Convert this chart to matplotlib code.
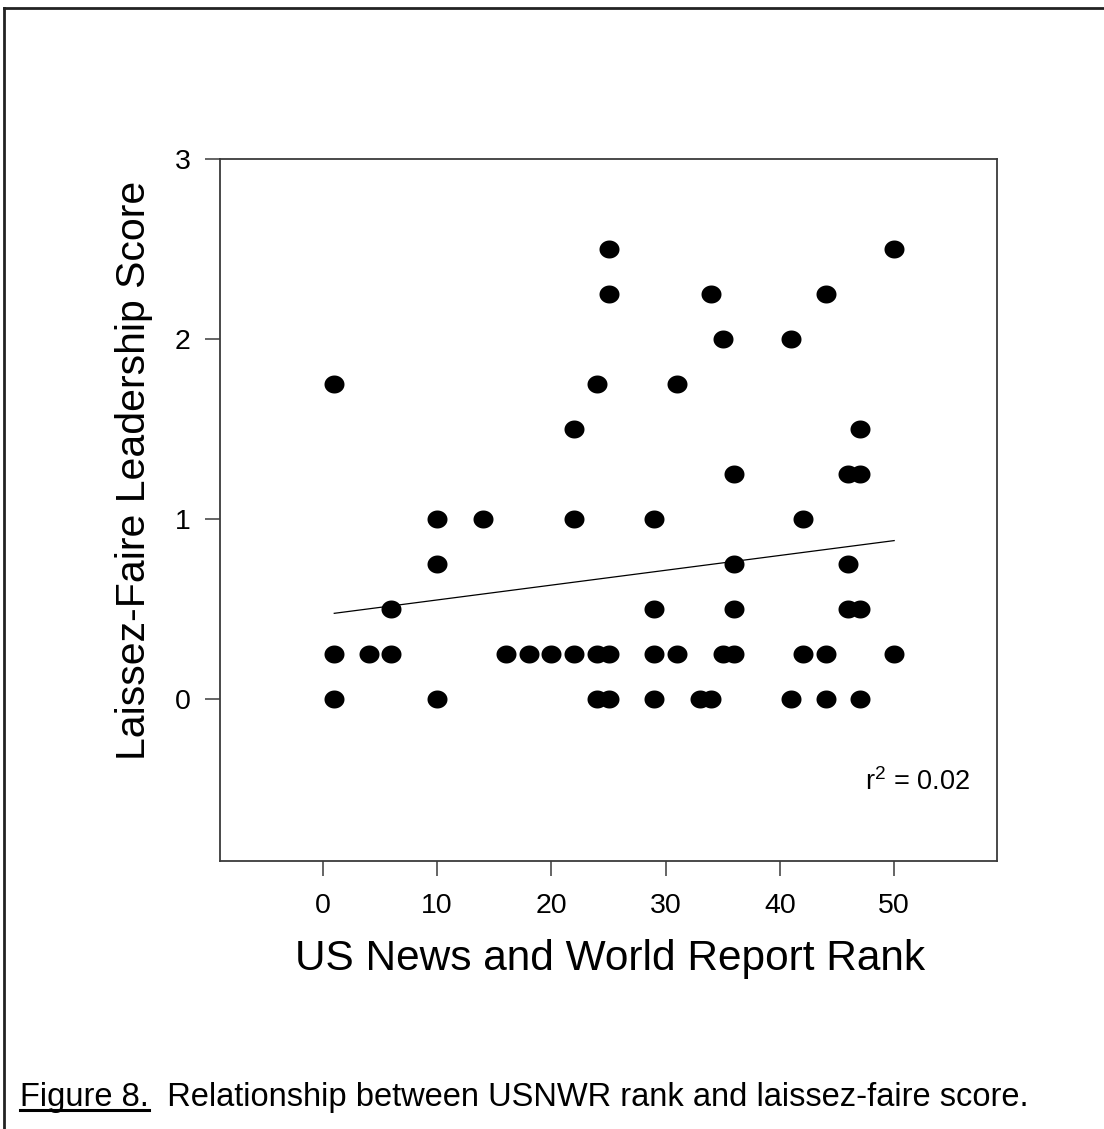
import matplotlib
matplotlib.use("Agg")
import matplotlib.pyplot as plt
import numpy as np
from matplotlib.path import Path
from matplotlib.lines import Line2D
from matplotlib.transforms import IdentityTransform

plt.rcParams['font.family'] = ['Liberation Sans', 'DejaVu Sans']
plt.rcParams['mathtext.fontset'] = 'custom'
plt.rcParams['mathtext.rm'] = 'Liberation Sans'
plt.rcParams['mathtext.it'] = 'Liberation Sans'

# USNWR rank vs. laissez-faire leadership score
rank = [1, 1, 1, 4, 6, 6, 10, 10, 10, 14, 16, 18, 20, 22, 22, 22,
        24, 24, 24, 25, 25, 25, 25, 29, 29, 29, 29, 31, 31, 33, 34, 34,
        35, 35, 36, 36, 36, 36, 41, 41, 42, 42, 44, 44, 44, 46, 46, 46,
        47, 47, 47, 47, 50, 50]
score = [1.75, 0.25, 0.0, 0.25, 0.5, 0.25, 1.0, 0.75, 0.0, 1.0, 0.25, 0.25, 0.25, 1.5, 1.0, 0.25,
         1.75, 0.25, 0.0, 2.5, 2.25, 0.25, 0.0, 1.0, 0.5, 0.25, 0.0, 1.75, 0.25, 0.0, 2.25, 0.0,
         2.0, 0.25, 1.25, 0.75, 0.5, 0.25, 2.0, 0.0, 1.0, 0.25, 2.25, 0.25, 0.0, 1.25, 0.75, 0.5,
         1.5, 1.25, 0.5, 0.0, 2.5, 0.25]

# least-squares line as reported with the plot
fit_x = [1, 50]
fit_y = [0.476, 0.88]
r_squared = 0.02

x_ticks = [0, 10, 20, 30, 40, 50]
y_ticks = [0, 1, 2, 3]

W, H = 1104, 1129
fig = plt.figure(figsize=(W / 100, H / 100), dpi=100)
fig.patch.set_facecolor('white')

ax = fig.add_axes([220 / W, 1 - 861 / H, (997 - 220) / W, (861 - 159) / H])

# slightly flattened dot marker
t = np.linspace(0, 2 * np.pi, 65)
dot = Path(np.column_stack([np.cos(t), 0.9 * np.sin(t)]), closed=True)

ax.plot(fit_x, fit_y, color='black', lw=0.9, zorder=2)
ax.plot(rank, score, linestyle='none', marker=dot, markersize=14.4,
        markerfacecolor='black', markeredgewidth=0, zorder=3)

ax.set_xlim(-9, 59)
ax.set_ylim(-0.9, 3)
ax.set_xticks(x_ticks)
ax.set_yticks(y_ticks)

spine_col = '#3a3a3a'
for s in ax.spines.values():
    s.set_color(spine_col)
    s.set_linewidth(1.3)
ax.tick_params(axis='both', direction='out', length=11, width=1.1,
               color=spine_col, labelsize=20.5, labelcolor='black')
ax.tick_params(axis='x', pad=12)
ax.tick_params(axis='y', pad=10)

ax.set_xlabel('US News and World Report Rank', fontsize=30.5, va='center')
ax.xaxis.set_label_coords(0.502, -0.14)
ax.set_ylabel('Laissez-Faire Leadership Score', fontsize=29.5, va='center')
ax.yaxis.set_label_coords(-0.111, 0.557)

ax.text(0.965, 0.113, r'$\mathregular{r^2}$ = ' + f'{r_squared:.2f}', transform=ax.transAxes,
        ha='right', va='center', fontsize=19.5)

# page frame
fig.add_artist(Line2D([4, W], [H - 8, H - 8], transform=IdentityTransform(),
                      color='#222222', lw=2.0))
fig.add_artist(Line2D([4, 4], [0, H - 8], transform=IdentityTransform(),
                      color='#222222', lw=2.0))

# caption with underlined figure number
cap_base = H - 1106
t1 = fig.text(20 / W, cap_base / H, 'Figure 8.', fontsize=23.5, va='baseline', ha='left')
fig.canvas.draw()
bb = t1.get_window_extent()
t2 = fig.text((bb.x1) / W, cap_base / H,
              '  Relationship between USNWR rank and laissez-faire score.',
              fontsize=23.5, va='baseline', ha='left')
fig.add_artist(Line2D([bb.x0, bb.x1], [cap_base - 4, cap_base - 4],
                      transform=IdentityTransform(), color='black', lw=2.2))

fig.savefig('out.png', dpi=100, facecolor='white')
